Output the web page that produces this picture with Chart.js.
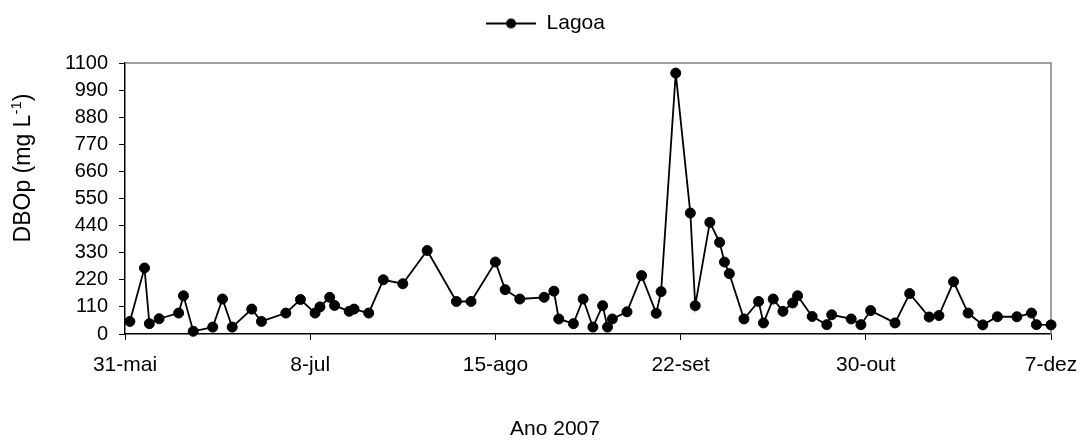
<!DOCTYPE html>
<html>
<head>
<meta charset="utf-8">
<script src="https://cdn.jsdelivr.net/npm/chart.js@4.4.0/dist/chart.umd.min.js"></script>
<style>
html, body { margin: 0; padding: 0; background: #fff; }
</style>
</head>
<body>
<canvas id="myChart" width="1083" height="441"></canvas>
<script>
// dias contados a partir de 31-mai-2007
const sampleDays = [1, 4, 5, 7, 11, 12, 14, 18, 20, 22, 26, 28, 33, 36, 39, 40, 42, 43, 46, 47,
	50, 53, 57, 62, 68, 71, 76, 78, 81, 86, 88, 89, 92, 94, 96, 98, 99, 100, 103, 106,
	109, 110, 113, 116, 117, 120, 122, 123, 124, 127, 130, 131, 133, 135, 137, 138, 141, 144, 145, 149,
	151, 153, 158, 161, 165, 167, 170, 173, 176, 179, 183, 186, 187, 190];
const dbopValues = [51, 268, 42, 62, 85, 155, 11, 28, 142, 28, 101, 51, 85, 140, 85, 110, 149, 116, 92, 101,
	85, 220, 204, 339, 132, 132, 292, 180, 142, 149, 174, 61, 42, 142, 28, 115, 28, 61, 90, 237,
	84, 172, 1059, 491, 115, 453, 372, 292, 245, 61, 132, 45, 142, 92, 126, 155, 71, 38, 78, 61,
	38, 95, 45, 164, 69, 75, 212, 85, 37, 70, 70, 85, 38, 37];
const tickDays = [0, 38, 76, 114, 152, 190];
const tickLabels = ['31-mai', '8-jul', '15-ago', '22-set', '30-out', '7-dez'];
const seriesName = 'Lagoa';
const xTitle = 'Ano 2007';
const yTitle = 'DBOp (mg L';
const yTitleSup = '-1';

const fontFamily = "'Liberation Sans', Arial, sans-serif";
Chart.defaults.font.family = fontFamily;
Chart.defaults.font.size = 20;
Chart.defaults.color = '#000';

// marca da legenda: linha com bolinha no meio
const legendMark = document.createElement('canvas');
legendMark.width = 50;
legendMark.height = 12;
const lc = legendMark.getContext('2d');
lc.strokeStyle = '#000';
lc.fillStyle = '#000';
lc.lineWidth = 2;
lc.beginPath(); lc.moveTo(0, 6); lc.lineTo(50, 6); lc.stroke();
lc.beginPath(); lc.arc(25, 6, 5, 0, Math.PI * 2); lc.fill();

const points = sampleDays.map((d, i) => ({ x: d, y: dbopValues[i] }));

const legendHeight = {
	id: 'legendHeight',
	beforeInit(chart) {
		const fit = chart.legend.fit;
		chart.legend.fit = function() {
			fit.call(this);
			this.height = 63;
		};
	}
};

const frame = {
	id: 'frame',
	beforeDatasetsDraw(chart) {
		const { ctx, chartArea: a } = chart;
		ctx.save();
		ctx.strokeStyle = '#808080';
		ctx.lineWidth = 1.5;
		ctx.beginPath();
		ctx.moveTo(a.left, a.top);
		ctx.lineTo(a.right, a.top);
		ctx.lineTo(a.right, a.bottom);
		ctx.stroke();
		ctx.restore();
	}
};

const axisTitles = {
	id: 'axisTitles',
	afterDraw(chart) {
		const ctx = chart.ctx;
		ctx.save();
		ctx.fillStyle = '#000';
		ctx.font = '21px ' + fontFamily;
		ctx.textAlign = 'center';
		ctx.textBaseline = 'middle';
		ctx.fillText(xTitle, 555, 429);

		ctx.translate(24, 168);
		ctx.rotate(-Math.PI / 2);
		ctx.textAlign = 'left';
		const big = '23px ' + fontFamily;
		const small = '15px ' + fontFamily;
		ctx.font = big;
		const w1 = ctx.measureText(yTitle).width;
		const w3 = ctx.measureText(')').width;
		ctx.font = small;
		const w2 = ctx.measureText(yTitleSup).width;
		let x = -(w1 + w2 + w3) / 2;
		ctx.font = big;
		ctx.fillText(yTitle, x, 0);
		x += w1;
		ctx.font = small;
		ctx.fillText(yTitleSup, x, -7);
		x += w2;
		ctx.font = big;
		ctx.fillText(')', x, 0);
		ctx.restore();
	}
};

const ctx = document.getElementById('myChart').getContext('2d');
const myChart = new Chart(ctx, {
	type: 'line',
	data: {
		datasets: [{
			label: seriesName,
			data: points,
			borderColor: '#000',
			backgroundColor: '#000',
			borderWidth: 1.8,
			pointRadius: 5,
			pointBorderWidth: 1,
			pointBackgroundColor: '#000',
			pointBorderColor: '#000',
			tension: 0,
			clip: false
		}]
	},
	options: {
		responsive: false,
		animation: false,
		devicePixelRatio: 1,
		layout: { padding: { left: 40, right: 32, top: 0, bottom: 0 } },
		plugins: {
			legend: {
				position: 'top',
				labels: {
					usePointStyle: true,
					pointStyle: legendMark,
					pointStyleWidth: 50,
					padding: 13,
					color: '#000',
					font: { size: 21 }
				}
			},
			tooltip: { enabled: false }
		},
		scales: {
			x: {
				type: 'linear',
				min: tickDays[0],
				max: tickDays[tickDays.length - 1],
				afterBuildTicks: s => { s.ticks = tickDays.map(v => ({ value: v })); },
				afterFit: s => { s.height = 107; s.paddingLeft = 0; s.paddingRight = 0; },
				ticks: {
					autoSkip: false,
					maxRotation: 0,
					padding: 13,
					font: { size: 21 },
					callback: (v) => tickLabels[tickDays.indexOf(v)]
				},
				grid: { drawOnChartArea: false, tickLength: 6, color: '#000', tickWidth: 1 },
				border: { color: '#000', width: 1.5 }
			},
			y: {
				min: 0,
				max: 1100,
				afterFit: s => { s.width = 85; },
				ticks: {
					stepSize: 110,
					padding: 11,
					callback: v => String(v)
				},
				grid: { drawOnChartArea: false, tickLength: 6, color: '#000', tickWidth: 1 },
				border: { color: '#000', width: 1.5 }
			}
		}
	},
	plugins: [legendHeight, frame, axisTitles]
});
</script>
</body>
</html>
